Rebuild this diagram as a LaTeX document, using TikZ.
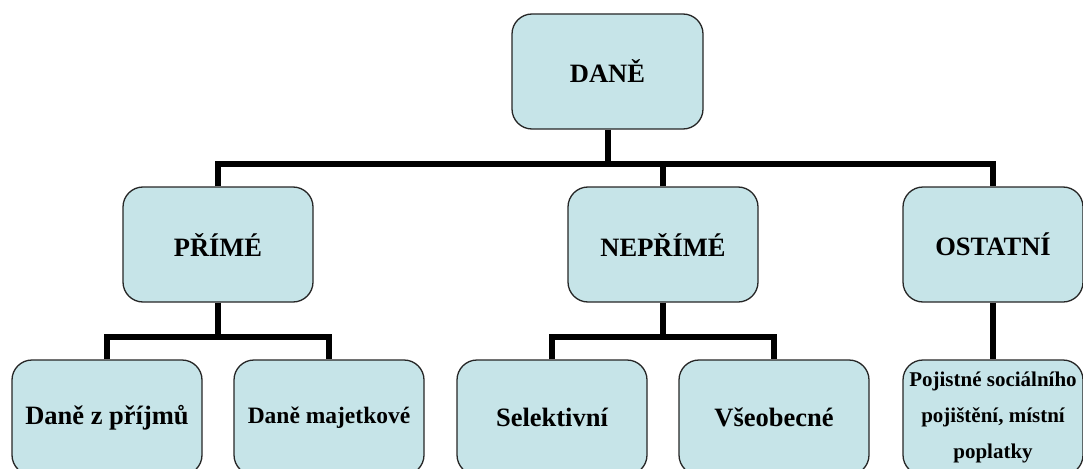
\documentclass[tikz,border=0pt]{standalone}
\usepackage{fontspec}
\setmainfont{Liberation Serif}
\begin{document}
\begin{tikzpicture}[x=1pt,y=-1pt,
  box/.style={draw=black!85, line width=1.3pt, fill=boxfill, rounded corners=20pt,
    minimum width=190pt, minimum height=115pt, inner sep=2pt,
    font=\bfseries\fontsize{26.5}{30}\selectfont},
  conn/.style={line width=6pt, line join=miter}]
\definecolor{boxfill}{RGB}{198,228,232}
\useasboundingbox (0,0) rectangle (1083,468);
\clip (0,0) rectangle (1083,468);

% levels of the tax tree
\node[box, minimum width=191pt] (dane) at (607.5,71.5) {DANĚ};
\node[box] (prime)   at (218,244.5) {PŘÍMÉ};
\node[box] (neprime) at (663,244.5) {NEPŘÍMÉ};
\node[box, minimum width=180pt] (ostatni) at (993,244.5) {OSTATNÍ};

\node[box] (prijmy)  at (107,417.5) {Daně z příjmů};
\node[box, font=\bfseries\fontsize{23.5}{28}\selectfont] (majetek) at (329,417.5) {Daně majetkové};
\node[box] (selekt)  at (552,417.5) {Selektivní};
\node[box] (vseob)   at (774,417.5) {Všeobecné};
\node[box, minimum width=180pt, align=center,
  font=\bfseries\fontsize{21}{36}\selectfont] (pojist) at (993,417.5)
  {Pojistné sociálního\\pojištění, místní\\poplatky};

% bus bars
\coordinate (bar1) at (0,164);
\coordinate (bar2) at (0,337);

\draw[conn] (dane.south) -- (dane.south |- bar1);
\draw[conn] (prime.north) -- (prime.north |- bar1) -- (ostatni.north |- bar1) -- (ostatni.north);
\draw[conn] (neprime.north) -- (neprime.north |- bar1);

\draw[conn] (prime.south) -- (prime.south |- bar2);
\draw[conn] (prijmy.north) -- (prijmy.north |- bar2) -- (majetek.north |- bar2) -- (majetek.north);

\draw[conn] (neprime.south) -- (neprime.south |- bar2);
\draw[conn] (selekt.north) -- (selekt.north |- bar2) -- (vseob.north |- bar2) -- (vseob.north);

\draw[conn] (ostatni.south) -- (pojist.north);
\end{tikzpicture}
\end{document}
